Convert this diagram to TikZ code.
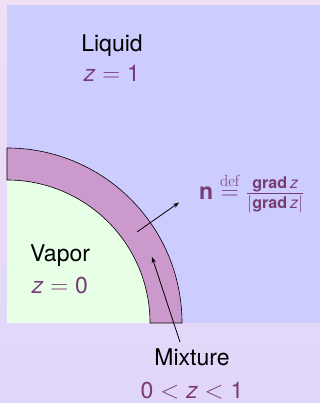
\documentclass[tikz,border=0pt]{standalone}
\usepackage{amsmath}
\usepackage{fontspec}
\setsansfont{TeX Gyre Heros}
\renewcommand{\familydefault}{\sfdefault}
\usetikzlibrary{positioning, arrows.meta, calc}
\definecolor{bgTop}{RGB}{240, 224, 245}
\definecolor{bgBottom}{RGB}{224, 214, 250}
\definecolor{liquidBlue}{RGB}{204, 204, 255}
\definecolor{vaporGreen}{RGB}{230, 255, 230}
\definecolor{mixMauve}{RGB}{204, 153, 204}
\definecolor{mathPurple}{RGB}{120, 60, 115}
\newcommand{\zvar}{\textit{z}}
\tikzset{
  phaseLabel/.style={
    font=\fontsize{23}{28}\selectfont,
    inner sep=0pt,
    anchor=base
  },
  phaseValue/.style={
    phaseLabel,
    text=mathPurple
  },
  pointer/.style={
    -{Stealth[length=6pt, width=4.5pt]},
    line width=0.8pt,
    draw=black
  }
}

\begin{document}
\begin{tikzpicture}[x=1pt, y=1pt]
  % canvas and liquid region
  \useasboundingbox (0,0) rectangle (320,403);
  \shade[top color=bgTop, bottom color=bgBottom] (0,0) rectangle (320,403);
  \fill[liquidBlue] (7,80) rectangle (320,398);
  % vapor bubble and mixture layer
  \coordinate (C) at (7,80);
  \fill[vaporGreen] (C) -- ++(143,0) arc[start angle=0, end angle=90, radius=143] -- cycle;
  \filldraw[fill=mixMauve, draw=black, line width=0.6pt]
    ($(C)+(175,0)$) arc[start angle=0, end angle=90, radius=175]
    -- ++(0,-32) arc[start angle=90, end angle=0, radius=143] -- cycle;
  % phase labels
  \node[phaseLabel] (liquid) at (112,351) {Liquid};
  \node[phaseValue] (liquidZ) at ([yshift=-30pt]liquid.base) {$\zvar = \text{1}$};
  \node[phaseLabel] (vapor) at (60,141) {Vapor};
  \node[phaseValue] (vaporZ) at ([yshift=-32pt]vapor.base) {$\zvar = \text{0}$};
  \node[phaseLabel] (mixture) at (192,37) {Mixture};
  \node[phaseValue] (mixtureZ) at ([yshift=-32pt]mixture.base) {$\text{0} < \zvar < \text{1}$};
  % normal vector
  \node[phaseValue, anchor=base west] (normal) at (199,203)
    {$\textbf{n}\stackrel{\textrm{def}}{=}\frac{\textbf{grad}\,\zvar}{|\textbf{grad}\,\zvar|}$};
  \coordinate (nTail) at ($(C)+(35:159)$);
  \coordinate (nHead) at ($(C)+(35:210)$);
  \draw[pointer] (nTail) -- (nHead);
  \coordinate (mixHead) at (152,146);
  \draw[pointer] ([xshift=-12pt, yshift=7pt]mixture.north) -- (mixHead);
\end{tikzpicture}
\end{document}
